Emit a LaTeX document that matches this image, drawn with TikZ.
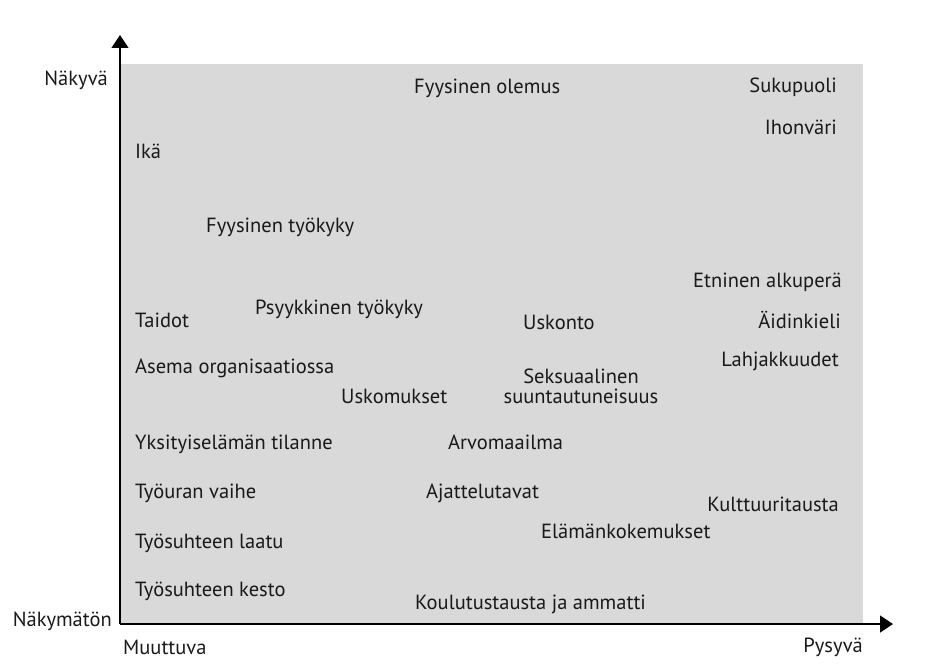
\documentclass[tikz,border=0pt]{standalone}
\usepackage{fontspec}
\setmainfont{PT Sans}
\usetikzlibrary{arrows.meta}
\definecolor{panel}{gray}{0.85}
\tikzset{
  chart/.style={x=1pt,y=-1pt,font=\fontsize{20.5}{20}\selectfont},
  lbl/.style={inner sep=0pt,text=black!90},
  axis/.style={line width=1.3pt,-{Triangle[width=17pt,length=13pt]}},
}

\begin{document}
\begin{tikzpicture}[chart]
  \useasboundingbox (0,0) rectangle (952,668);
  \fill[panel] (120,64) rectangle (863,624);
  \coordinate (o) at (120,624);
  \coordinate (ytip) at (120,35);
  \coordinate (xtip) at (893,624);
  \draw[axis] (o) -- (ytip);
  \draw[axis] (o) -- (xtip);
  % axis labels
  \node[lbl,anchor=base east] (visible) at (108,86) {Näkyvä};
  \node[lbl,anchor=base east] (hidden) at (112,626) {Näkymätön};
  \node[lbl,anchor=base west] (changing) at (123,654) {Muuttuva};
  \node[lbl,anchor=base east] (stable) at (863,652) {Pysyvä};
  % left column
  \foreach \name/\y/\txt in {age/159/Ikä, skills/327/Taidot,
      position/373/Asema organisaatiossa, private/449/Yksityiselämän tilanne,
      career/498/Työuran vaihe, quality/548/Työsuhteen laatu,
      duration/596/Työsuhteen kesto}
    \node[lbl,anchor=base west] (\name) at (135,\y) {\txt};
  % middle
  \node[lbl,anchor=base west] (looks) at (414,94) {Fyysinen olemus};
  \node[lbl,anchor=base west] (physfit) at (206,233) {Fyysinen työkyky};
  \node[lbl,anchor=base west] (mentfit) at (255,314) {Psyykkinen työkyky};
  \node[lbl,anchor=base west] (religion) at (523,329) {Uskonto};
  \node[lbl,anchor=base west] (beliefs) at (341,403) {Uskomukset};
  \node[lbl,align=center] (orient) at (581,386) {Seksuaalinen\\suuntautuneisuus};
  \node[lbl,anchor=base west] (values) at (448,449) {Arvomaailma};
  \node[lbl,anchor=base west] (thinking) at (426,498) {Ajattelutavat};
  \node[lbl,anchor=base west] (experience) at (541,538) {Elämänkokemukset};
  \node[lbl,anchor=base west] (education) at (415,609) {Koulutustausta ja ammatti};
  % right column
  \node[lbl,anchor=base east] (gender) at (837,93) {Sukupuoli};
  \node[lbl,anchor=base east] (skin) at (837,135) {Ihonväri};
  \node[lbl,anchor=base east] (ethnic) at (842,287) {Etninen alkuperä};
  \node[lbl,anchor=base east] (language) at (841,328) {Äidinkieli};
  \node[lbl,anchor=base east] (talents) at (839,366) {Lahjakkuudet};
  \node[lbl,anchor=base east] (culture) at (839,511) {Kulttuuritausta};
\end{tikzpicture}
\end{document}
